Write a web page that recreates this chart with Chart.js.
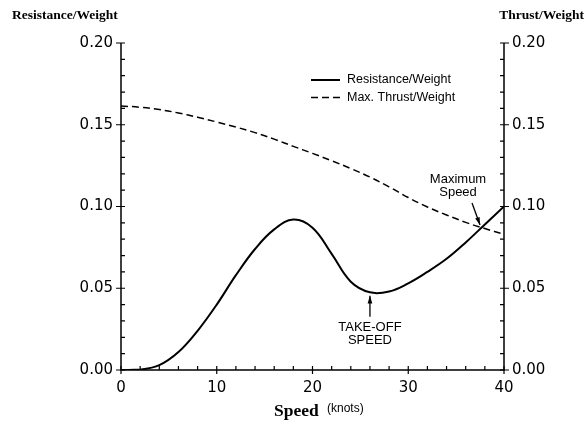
<!DOCTYPE html>
<html>
<head>
<meta charset="utf-8">
<script src="https://cdn.jsdelivr.net/npm/chart.js@4.4.0/dist/chart.umd.min.js"></script>
<style>body{margin:0;background:#fff}</style>
</head>
<body>
<canvas id="chartRw" width="585" height="423"></canvas>
<script>
// valores (velocidade em nós)
var speeds = [0, 2, 4, 6, 8, 10, 12, 14, 16, 18, 20, 22, 24, 26, 28, 30, 32, 34, 36, 38, 40];
var resistance = [0.000, 0.0003, 0.003, 0.011, 0.024, 0.040, 0.058, 0.074, 0.086, 0.092, 0.087, 0.071, 0.054, 0.0475, 0.048, 0.053, 0.060, 0.068, 0.078, 0.089, 0.100];
var thrust = [0.1615, 0.1607, 0.1593, 0.1572, 0.1546, 0.1517, 0.1486, 0.1452, 0.1412, 0.1368, 0.1325, 0.128, 0.1232, 0.118, 0.112, 0.1055, 0.0997, 0.0948, 0.0903, 0.0865, 0.083];
var yTicks = [0, 0.05, 0.10, 0.15, 0.20];
var xTicks = [0, 10, 20, 30, 40];
var takeOff = {x: 26, y: 0.046};
var maxSpeed = {x: 37.6, y: 0.0875};

function pares(ys) {
    return speeds.map(function (s, i) { return {x: s, y: ys[i]}; });
}

function seta(ctx, x1, y1, x2, y2) {
    var ang = Math.atan2(y2 - y1, x2 - x1);
    ctx.beginPath();
    ctx.moveTo(x1, y1);
    ctx.lineTo(x2, y2);
    ctx.stroke();
    ctx.beginPath();
    ctx.moveTo(x2, y2);
    ctx.lineTo(x2 - 8 * Math.cos(ang - 0.3), y2 - 8 * Math.sin(ang - 0.3));
    ctx.lineTo(x2 - 8 * Math.cos(ang + 0.3), y2 - 8 * Math.sin(ang + 0.3));
    ctx.closePath();
    ctx.fill();
}

var eixos = {
    id: 'eixos',
    afterDraw: function (chart) {
        var ctx = chart.ctx, a = chart.chartArea;
        var x = chart.scales.x, y = chart.scales.y;
        ctx.save();
        ctx.strokeStyle = '#000';
        ctx.fillStyle = '#000';
        ctx.lineWidth = 1.5;
        ctx.beginPath();
        ctx.moveTo(a.left, a.top);
        ctx.lineTo(a.left, a.bottom);
        ctx.lineTo(a.right, a.bottom);
        ctx.lineTo(a.right, a.top);
        ctx.stroke();

        ctx.lineWidth = 1.2;
        ctx.beginPath();
        for (var v = 0; v <= 40; v += 2) {
            var px = x.getPixelForValue(v);
            var maior = v % 10 == 0;
            ctx.moveTo(px, a.bottom - 4);
            ctx.lineTo(px, a.bottom + (maior ? 4 : 0));
        }
        for (var i = 0; i <= 20; i++) {
            var py = y.getPixelForValue(i / 100);
            var maior2 = i % 5 == 0;
            ctx.moveTo(a.left - (maior2 ? 5 : 0), py);
            ctx.lineTo(a.left + 4, py);
            ctx.moveTo(a.right - 4, py);
            ctx.lineTo(a.right + (maior2 ? 5 : 0), py);
        }
        ctx.stroke();

        // títulos
        ctx.textBaseline = 'middle';
        ctx.font = 'bold 13.5px "Liberation Serif"';
        ctx.textAlign = 'left';
        ctx.fillText('Resistance/Weight', 12, 16);
        ctx.textAlign = 'right';
        ctx.fillText('Thrust/Weight', 584, 16);
        ctx.textAlign = 'left';
        ctx.font = 'bold 17.5px "Liberation Serif"';
        ctx.fillText('Speed', 274, 411);
        ctx.font = '12px "Liberation Sans"';
        ctx.fillText('(knots)', 327, 409);

        // legenda
        var ds = chart.data.datasets;
        ctx.font = '12.5px "Liberation Sans"';
        for (var k = 0; k < ds.length; k++) {
            var ly = 80 + k * 17.5;
            ctx.lineWidth = ds[k].borderWidth;
            ctx.setLineDash(ds[k].borderDash || []);
            ctx.beginPath();
            ctx.moveTo(311, ly);
            ctx.lineTo(340, ly);
            ctx.stroke();
            ctx.setLineDash([]);
            ctx.fillText(ds[k].label, 347, ly);
        }

        // anotações
        ctx.lineWidth = 1.3;
        ctx.textAlign = 'center';
        ctx.font = '13px "Liberation Sans"';
        var tx = x.getPixelForValue(takeOff.x), ty = y.getPixelForValue(takeOff.y);
        seta(ctx, tx, ty + 22, tx, ty + 1);
        ctx.fillText('TAKE-OFF', tx, ty + 33);
        ctx.fillText('SPEED', tx, ty + 46);
        var mx = x.getPixelForValue(maxSpeed.x), my = y.getPixelForValue(maxSpeed.y);
        seta(ctx, mx - 9, my - 24, mx - 1, my - 2);
        ctx.fillText('Maximum', mx - 23, my - 48);
        ctx.fillText('Speed', mx - 23, my - 35);
        ctx.restore();
    }
};

var tickFont = {family: 'DejaVu Sans', size: 15};

var ctxRw = document.getElementById('chartRw').getContext('2d');
var chart = new Chart(ctxRw, {
    type: 'line',
    data: {
        datasets: [
            {
                label: 'Resistance/Weight',
                data: pares(resistance),
                borderColor: '#000',
                borderWidth: 2,
                pointRadius: 0,
                tension: 0.4,
                yAxisID: 'y'
            },
            {
                label: 'Max. Thrust/Weight',
                data: pares(thrust),
                borderColor: '#000',
                borderWidth: 1.5,
                borderDash: [7, 4],
                pointRadius: 0,
                tension: 0.4,
                yAxisID: 'y2'
            }
        ]
    },
    options: {
        responsive: false,
        animation: false,
        layout: {padding: {top: 43, left: 0, right: 0, bottom: 0}},
        plugins: {legend: {display: false}, tooltip: {enabled: false}},
        scales: {
            x: {
                type: 'linear', min: 0, max: 40,
                grid: {display: false}, border: {display: false},
                afterFit: function (s) { s.height = 53; },
                afterBuildTicks: function (s) { s.ticks = xTicks.map(function (v) { return {value: v}; }); },
                ticks: {color: '#000', padding: 1, font: tickFont, maxRotation: 0}
            },
            y: {
                position: 'left', min: 0, max: 0.2,
                grid: {display: false}, border: {display: false},
                afterFit: function (s) { s.width = 121; },
                afterBuildTicks: function (s) { s.ticks = yTicks.map(function (v) { return {value: v}; }); },
                ticks: {color: '#000', padding: 0, font: tickFont,
                    callback: function (v) { return v.toFixed(2); }}
            },
            y2: {
                position: 'right', min: 0, max: 0.2,
                grid: {display: false}, border: {display: false},
                afterFit: function (s) { s.width = 81; },
                afterBuildTicks: function (s) { s.ticks = yTicks.map(function (v) { return {value: v}; }); },
                ticks: {color: '#000', padding: 0, font: tickFont,
                    callback: function (v) { return v.toFixed(2); }}
            }
        }
    },
    plugins: [eixos]
});
</script>
</body>
</html>
